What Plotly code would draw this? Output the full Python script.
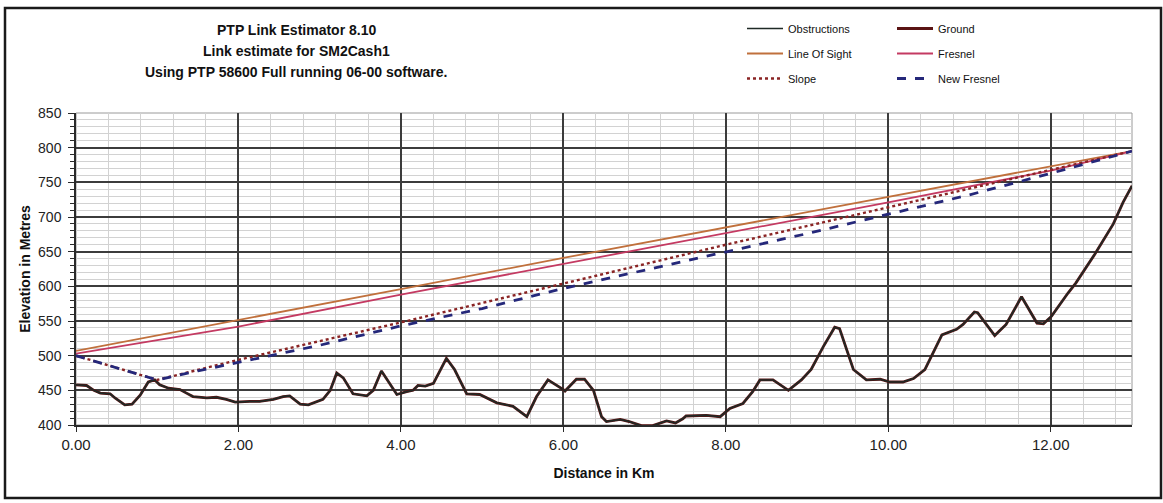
import plotly.graph_objects as go

# ---------------- data ----------------
ground_km = [0.00, 0.13, 0.22, 0.30, 0.42, 0.48, 0.60, 0.69, 0.79, 0.89, 0.97, 1.03, 1.14, 1.28,
             1.36, 1.44, 1.61, 1.73, 1.85, 1.96, 2.14, 2.26, 2.43, 2.55, 2.63, 2.76, 2.86, 3.04,
             3.13, 3.21, 3.29, 3.41, 3.58, 3.66, 3.76, 3.86, 3.95, 4.07, 4.15, 4.21, 4.30, 4.40,
             4.56, 4.66, 4.81, 4.97, 5.18, 5.38, 5.55, 5.67, 5.81, 6.00, 6.02, 6.16, 6.26, 6.37,
             6.47, 6.53, 6.70, 6.81, 6.96, 7.10, 7.27, 7.38, 7.47, 7.51, 7.76, 7.93, 8.05, 8.21,
             8.33, 8.42, 8.58, 8.77, 8.93, 9.05, 9.20, 9.34, 9.40, 9.57, 9.73, 9.90, 10.02, 10.18,
             10.31, 10.45, 10.53, 10.66, 10.84, 10.92, 11.06, 11.10, 11.31, 11.45, 11.64, 11.83,
             11.91, 12.01, 12.21, 12.31, 12.54, 12.77, 12.89, 13.00]
ground_m = [458, 457, 450, 446, 445, 439, 429, 430, 443, 462, 465, 458, 453, 451,
            446, 441, 439, 440, 437, 433, 434, 434, 437, 441, 442, 430, 429, 437,
            450, 475, 468, 445, 442, 450, 478, 460, 444, 448, 450, 457, 456, 460,
            496, 480, 445, 444, 432, 427, 412, 441, 465, 451, 449, 466, 466, 450,
            412, 405, 408, 405, 399, 399, 406, 403, 409, 413, 414, 412, 424, 431,
            448, 465, 465, 450, 465, 480, 513, 541, 539, 480, 465, 466, 462, 462,
            467, 480, 499, 530, 538, 545, 563, 562, 529, 545, 585, 547,
            546, 557, 590, 605, 646, 690, 721, 745]

los_km = [0, 2, 4, 6, 8, 10, 12, 13]
los_m = [507, 551, 596, 641, 685, 728, 773, 795]

fresnel_km = [0, 2, 4, 6, 8, 10, 12, 13]
fresnel_m = [503, 542, 588, 632, 677, 721, 767, 795]

slope_km = [0, 1, 2, 4, 6, 8, 10, 12, 13]
slope_m = [500, 465, 494, 548, 604, 660, 714, 768, 795]

newf_km = [0, 0.5, 1, 1.5, 2, 3, 4, 5, 6, 7, 8, 9, 10, 11, 12, 13]
newf_m = [500, 483, 465, 478, 490, 515, 543, 568, 597, 623, 650, 676, 704, 732, 763, 795]

title_lines = ["PTP Link Estimator 8.10",
               "Link estimate for SM2Cash1",
               "Using PTP 58600 Full running 06-00 software."]
x_ticks = [0, 2, 4, 6, 8, 10, 12]

FONT = "Liberation Sans, Arial, sans-serif"

fig = go.Figure()

fig.add_trace(go.Scatter(x=ground_km, y=ground_m, mode="lines", name="Ground",
                         line=dict(color="#5a1414", width=2.8), legend="legend2",
                         legendgroup="g2"))
fig.add_trace(go.Scatter(x=ground_km, y=ground_m, mode="lines", name="Obstructions",
                         line=dict(color="#1f2a26", width=1.6), legend="legend",
                         legendgroup="g1"))
fig.add_trace(go.Scatter(x=los_km, y=los_m, mode="lines", name="Line Of Sight",
                         line=dict(color="#c0703c", width=1.8), legend="legend",
                         legendgroup="g3"))
fig.add_trace(go.Scatter(x=fresnel_km, y=fresnel_m, mode="lines", name="Fresnel",
                         line=dict(color="#c43a62", width=1.8), legend="legend2",
                         legendgroup="g4"))
fig.add_trace(go.Scatter(x=slope_km, y=slope_m, mode="lines", name="Slope",
                         line=dict(color="#8a2424", width=2.4, dash="dot"), legend="legend",
                         legendgroup="g5"))
fig.add_trace(go.Scatter(x=newf_km, y=newf_m, mode="lines", name="New Fresnel",
                         line=dict(color="#25287a", width=2.8, dash="dash"), legend="legend2",
                         legendgroup="g6"))

W, H = 1163, 503
L, R, T, B = 76, 31, 113, 78
ph = H - T - B
pw = W - L - R


def py(p):
    return (H - B - p) / ph


def px(p):
    return (p - L) / pw


for i, (txt, yy) in enumerate(zip(title_lines, [30, 51, 72])):
    fig.add_annotation(text="<b>" + txt + "</b>", xref="paper", yref="paper",
                       x=px(296), y=py(yy), xanchor="center", yanchor="middle",
                       showarrow=False, font=dict(family=FONT, size=14, color="#111"))

# outer frame and plot-area frame
fig.add_shape(type="rect", xref="paper", yref="paper",
              x0=px(5), x1=px(1161), y0=py(498), y1=py(8),
              line=dict(color="#1a1a1a", width=2.5), layer="below")
fig.add_shape(type="rect", xref="paper", yref="paper", x0=0, x1=1, y0=0, y1=1,
              line=dict(color="#9a9a9a", width=1), layer="below")

legend_common = dict(font=dict(family=FONT, size=11, color="#111"), bgcolor="rgba(0,0,0,0)",
                     borderwidth=0, yanchor="top", xanchor="left", tracegroupgap=6,
                     itemwidth=36, orientation="v")

fig.update_layout(
    width=W, height=H,
    margin=dict(l=L, r=R, t=T, b=B, pad=0),
    paper_bgcolor="white", plot_bgcolor="white",
    font=dict(family=FONT, color="#111"),
    showlegend=True,
    legend=dict(x=px(742), y=py(14), **legend_common),
    legend2=dict(x=px(892), y=py(14), **legend_common),
    xaxis=dict(range=[0, 13], tickvals=x_ticks, tickformat=".2f",
               showgrid=True, gridcolor="#3c3c3c", gridwidth=1.6,
               minor=dict(dtick=0.4, tick0=0, showgrid=True, gridcolor="#d2d2d2", gridwidth=1),
               showline=True, linecolor="#2a2a2a", linewidth=1.5,
               ticks="outside", ticklen=5, tickcolor="#2a2a2a",
               tickfont=dict(family=FONT, size=15, color="#222"),
               title=dict(text="<b>Distance in Km</b>", font=dict(family=FONT, size=14, color="#111"),
                          standoff=16),
               zeroline=False),
    yaxis=dict(range=[400, 850], dtick=50, tick0=400,
               showgrid=True, gridcolor="#3c3c3c", gridwidth=1.6,
               minor=dict(dtick=10, tick0=400, showgrid=True, gridcolor="#d2d2d2", gridwidth=1,
                          ticks="outside", ticklen=4, tickcolor="#2a2a2a"),
               showline=True, linecolor="#2a2a2a", linewidth=1.5,
               ticks="outside", ticklen=6, tickcolor="#2a2a2a",
               ticklabelstandoff=4,
               tickfont=dict(family=FONT, size=14, color="#222"),
               title=dict(text="<b>Elevation in Metres</b>", font=dict(family=FONT, size=14, color="#111"),
                          standoff=4),
               zeroline=False),
)

fig.write_html("out.html")
